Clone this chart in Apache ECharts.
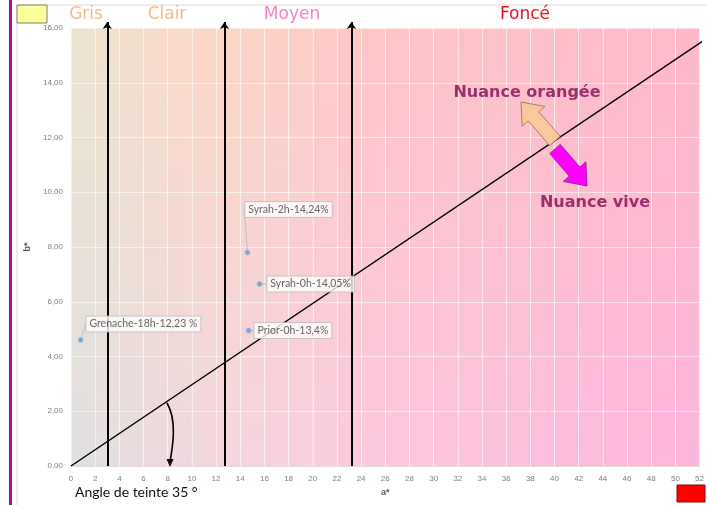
<!DOCTYPE html>
<html>
<head>
<meta charset="utf-8">
<script src="https://cdn.jsdelivr.net/npm/echarts@6/dist/echarts.min.js"></script>
<style>
html, body { margin: 0; padding: 0; background: #fff; }
#chart { width: 707px; height: 505px; }
</style>
</head>
<body>
<div id="chart"></div>
<script>
// wine samples (a*, b*)
var pointNames = ['Grenache-18h-12,23 %', 'Syrah-2h-14,24%', 'Syrah-0h-14,05%', 'Prior-0h-13,4%'];
var pointA = [0.8, 14.6, 15.6, 14.7];
var pointB = [4.6, 7.8, 6.65, 4.95];

// zone limits on a* and zone titles
var zoneBounds = [3, 12.7, 23.2];
var zoneTop = 16.22;
var zoneNames = ['Gris', 'Clair', 'Moyen', 'Foncé'];

// hue line (angle de teinte)
var hueLineA = [0, 52.4];
var hueLineB = [0, 15.56];

var xTicks = { min: 0, max: 52, step: 2 };
var yTicks = { min: 0, max: 16, step: 2 };

var chart = echarts.init(document.getElementById('chart'));

// background colour ramps (top / bottom of the plot)
var topStops = [[0, [236, 228, 208]], [12, [252, 214, 196]], [26, [253, 198, 200]], [52, [253, 184, 200]]];
var botStops = [[0, [224, 224, 224]], [12, [244, 214, 222]], [26, [252, 200, 222]], [52, [253, 180, 220]]];

function ramp(stops, a) {
	for (var i = 0; i < stops.length - 1; i++) {
		var s0 = stops[i], s1 = stops[i + 1];
		if (a <= s1[0]) {
			var t = (a - s0[0]) / (s1[0] - s0[0]);
			var c = [0, 1, 2].map(function(k) { return Math.round(s0[1][k] + (s1[1][k] - s0[1][k]) * t); });
			return 'rgb(' + c.join(',') + ')';
		}
	}
	return 'rgb(' + stops[stops.length - 1][1].join(',') + ')';
}

var strips = [];
for (var a = 0; a < 52; a += 2) {
	strips.push([
		{ coord: [a, 0], itemStyle: { color: new echarts.graphic.LinearGradient(0, 0, 0, 1, [
			{ offset: 0, color: ramp(topStops, a + 1) },
			{ offset: 1, color: ramp(botStops, a + 1) }
		]) } },
		{ coord: [a + 2, 16] }
	]);
}

function blockArrow(x0, y0, x1, y1, sw, hw, hl) {
	var dx = x1 - x0, dy = y1 - y0;
	var len = Math.sqrt(dx * dx + dy * dy);
	var ux = dx / len, uy = dy / len, nx = -uy, ny = ux;
	var bx = x1 - ux * hl, by = y1 - uy * hl;
	return [
		[x0 + nx * sw, y0 + ny * sw], [bx + nx * sw, by + ny * sw], [bx + nx * hw, by + ny * hw],
		[x1, y1],
		[bx - nx * hw, by - ny * hw], [bx - nx * sw, by - ny * sw], [x0 - nx * sw, y0 - ny * sw]
	];
}

var labelShift = [[-2, -16], [-10, -43], [0, 0], [-2, 0]];

var headerX = [86, 167, 292, 525];
var headerColors = ['#f7b98c', '#f7b98c', '#f286c4', '#e8101a'];

var graphics = [
	{ type: 'rect', shape: { x: 17, y: 5, width: 700, height: 520 }, style: { fill: 'none', stroke: '#d9d9d9', lineWidth: 1 }, z: 0 },
	{ type: 'rect', shape: { x: 9, y: 0, width: 3, height: 505 }, style: { fill: '#a2109f' } },
	{ type: 'rect', shape: { x: 17, y: 5, width: 30, height: 18 }, style: { fill: '#ffff99', stroke: '#7f7f7f', lineWidth: 1 } },
	{ type: 'rect', shape: { x: 677, y: 485, width: 28, height: 17 }, style: { fill: '#ff0000', stroke: '#7a1010', lineWidth: 1 } },
	{ type: 'text', left: 75, top: 485, style: { text: 'Angle de teinte 35 °', font: '14px Lato', fill: '#111' } },
	{ type: 'polygon', shape: { points: blockArrow(555, 141, 521, 102, 7, 15, 19) }, style: { fill: '#f9c89d', stroke: '#9a6a50', lineWidth: 0.8 }, z: 20 },
	{ type: 'polygon', shape: { points: blockArrow(555, 149, 587, 186, 7, 15, 19) }, style: { fill: '#ff00ff', stroke: '#8a1a8a', lineWidth: 0.8 }, z: 20 },
	{ type: 'text', x: 527, y: 93, style: { text: 'Nuance orangée', font: 'bold 16px "DejaVu Sans"', fill: '#9b2f6c', align: 'center', verticalAlign: 'middle' }, z: 20 },
	{ type: 'text', x: 595, y: 203, style: { text: 'Nuance vive', font: 'bold 16px "DejaVu Sans"', fill: '#9b2f6c', align: 'center', verticalAlign: 'middle' }, z: 20 },
	{ type: 'bezierCurve', shape: { x1: 167, y1: 403, cpx1: 177, cpy1: 420, cpx2: 173, cpy2: 445, x2: 170, y2: 462 }, style: { stroke: '#000', lineWidth: 1.6, fill: 'none' }, z: 20 },
	{ type: 'polygon', shape: { points: [[166.5, 459], [173.5, 459], [170, 467]] }, style: { fill: '#000' }, z: 20 }
];
zoneNames.forEach(function(n, i) {
	graphics.push({ type: 'text', x: headerX[i], y: 15, style: { text: n, font: '17px "DejaVu Sans"', fill: headerColors[i], align: 'center', verticalAlign: 'middle' } });
});

var option = {
	animation: false,
	backgroundColor: '#fff',
	grid: { left: 71, right: 7, top: 28, bottom: 39 },
	xAxis: {
		type: 'value', min: xTicks.min, max: xTicks.max, interval: xTicks.step, z: 3,
		name: 'a*', nameLocation: 'middle', nameGap: 22,
		nameTextStyle: { fontSize: 9, fontWeight: 'bold', color: '#595959' },
		axisLine: { show: true, lineStyle: { color: '#e2dcdc' } },
		axisTick: { show: false },
		axisLabel: { fontSize: 8, color: '#7f7f7f', margin: 9 },
		splitLine: { show: true, lineStyle: { color: 'rgba(255,255,255,0.55)', width: 1 } }
	},
	yAxis: {
		type: 'value', min: yTicks.min, max: yTicks.max, interval: yTicks.step, z: 3,
		name: 'b*', nameLocation: 'middle', nameGap: 34,
		nameTextStyle: { fontSize: 9, fontWeight: 'bold', color: '#595959' },
		axisLine: { show: false },
		axisTick: { show: false },
		axisLabel: { fontSize: 8, color: '#7f7f7f', margin: 8, formatter: function(v) { return v.toFixed(2).replace('.', ','); } },
		splitLine: { show: true, lineStyle: { color: 'rgba(255,255,255,0.55)', width: 1 } }
	},
	graphic: graphics,
	series: [
		{
			type: 'line', data: [], z: 1, silent: true,
			markArea: { silent: true, data: strips }
		},
		{
			type: 'line', z: 6, clip: false, silent: true, showSymbol: false,
			data: hueLineA.map(function(a, i) { return [a, hueLineB[i]]; }),
			lineStyle: { color: '#000', width: 1.5 }
		},
		{
			type: 'lines', coordinateSystem: 'cartesian2d', z: 7, clip: false, silent: true,
			symbol: ['none', 'arrow'], symbolSize: 7,
			lineStyle: { color: '#000', width: 2, opacity: 1 },
			data: zoneBounds.map(function(a) { return { coords: [[a, 0], [a, zoneTop]] }; })
		},
		{
			type: 'scatter', z: 10, symbolSize: 5,
			data: pointA.map(function(a, i) { return { name: pointNames[i], value: [a, pointB[i]] }; }),
			itemStyle: { color: '#5b9bd5', borderColor: '#9dc3e6', borderWidth: 0.5 },
			label: {
				show: true, position: 'right', distance: 5, formatter: '{b}',
				fontSize: 10.5, color: '#404040', fontFamily: 'Lato',
				backgroundColor: '#fff', borderColor: '#bfbfbf', borderWidth: 1, padding: [2, 3]
			},
			labelLine: { show: true, lineStyle: { color: '#bfbfbf', width: 1 } },
			labelLayout: function(p) {
				var s = labelShift[p.dataIndex];
				return { dx: s[0], dy: s[1] };
			}
		}
	]
};

chart.setOption(option);
</script>
</body>
</html>
